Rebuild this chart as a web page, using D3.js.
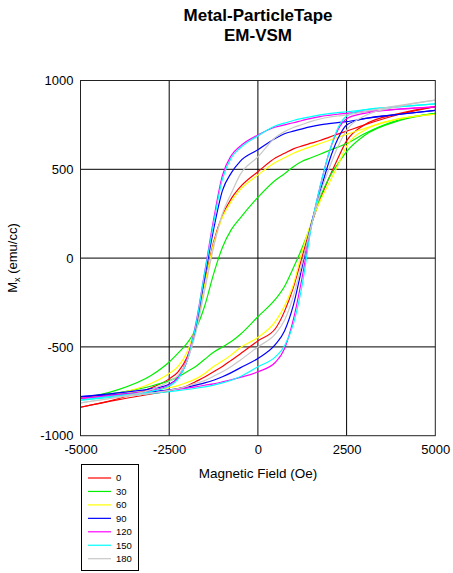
<!DOCTYPE html>
<html>
<head>
<meta charset="utf-8">
<script src="https://cdn.jsdelivr.net/npm/d3@7"></script>
<style>
  html, body { margin: 0; padding: 0; background: #fff; }
  svg { display: block; font-family: "Liberation Sans", Arial, Helvetica, sans-serif; }
</style>
</head>
<body>
<svg id="chart" width="453" height="573"></svg>
<script>
// ---- data ----
const titleLines = ["Metal-ParticleTape", "EM-VSM"];
const xTicks = [-5000, -2500, 0, 2500, 5000];
const yTicks = [-1000, -500, 0, 500, 1000];
const angles = ["0", "30", "60", "90", "120", "150", "180"];
const seriesColors = ["#ff0000", "#00f000", "#ffff00", "#0000ff", "#ff00ff", "#00ffff", "#c8c8c8"];

// applied field (Oe) sample points
const fieldH = [-5000, -4000, -3000, -2500, -2250, -2000, -1750, -1500, -1250, -1000, -750, -500, 0,
                500, 750, 1000, 1250, 1500, 1750, 2000, 2250, 2500, 3000, 4000, 5000];

// descending-field branch (upper) and ascending-field branch (lower), emu/cc
const upper0   = [-840, -795, -730, -680, -640, -560, -400, -140, 90, 240, 335, 400, 486, 565, 590, 615, 632, 647, 662, 680, 698, 715, 750, 810, 853];
const lower0   = [-840, -800, -765, -748, -735, -720, -695, -670, -640, -610, -575, -540, -466, -395, -300, -165, 10, 185, 330, 450, 560, 660, 750, 815, 853];
const upper30  = [-790, -745, -660, -585, -535, -480, -400, -270, -90, 60, 160, 225, 342, 440, 475, 515, 545, 565, 585, 605, 625, 645, 700, 780, 815];
const lower30  = [-790, -760, -720, -690, -670, -640, -610, -570, -530, -500, -470, -430, -330, -230, -160, -55, 60, 190, 340, 450, 530, 600, 690, 775, 815];
const upper60  = [-790, -765, -705, -650, -610, -530, -380, -150, 80, 230, 320, 385, 468, 540, 565, 590, 610, 628, 645, 662, 680, 697, 730, 785, 810];
const lower60  = [-790, -770, -745, -730, -718, -700, -680, -650, -610, -580, -545, -505, -447, -355, -270, -150, 40, 200, 320, 420, 520, 630, 720, 785, 810];
const upper90  = [-780, -760, -735, -710, -675, -580, -390, -110, 160, 380, 480, 545, 610, 675, 700, 715, 728, 740, 750, 757, 763, 768, 785, 810, 832];
const lower90  = [-780, -768, -752, -742, -735, -727, -715, -703, -688, -668, -645, -618, -565, -485, -410, -265, -45, 190, 370, 540, 670, 750, 785, 810, 832];
const upper120 = [-790, -770, -745, -715, -670, -570, -370, -80, 215, 465, 578, 630, 693, 738, 750, 762, 775, 787, 797, 804, 810, 815, 825, 840, 852];
const lower120 = [-790, -775, -760, -744, -738, -732, -725, -716, -708, -697, -685, -672, -640, -585, -510, -345, -105, 175, 400, 590, 720, 785, 815, 838, 852];
const upper150 = [-800, -775, -750, -720, -680, -580, -380, -85, 195, 445, 565, 620, 688, 745, 760, 775, 787, 797, 806, 813, 819, 824, 835, 853, 868];
const lower150 = [-800, -782, -762, -752, -746, -740, -733, -725, -715, -703, -688, -668, -612, -555, -495, -370, -150, 170, 400, 590, 730, 800, 835, 853, 868];
const upper180 = [-815, -785, -740, -695, -660, -580, -420, -180, 60, 250, 365, 470, 570, 680, 712, 735, 752, 770, 783, 793, 800, 806, 825, 860, 890];
const lower180 = [-815, -785, -760, -745, -735, -722, -705, -690, -665, -640, -610, -575, -500, -425, -350, -215, -25, 180, 360, 500, 625, 720, 800, 855, 890];

const series = [
  { name: angles[0], upper: upper0,   lower: lower0 },
  { name: angles[1], upper: upper30,  lower: lower30 },
  { name: angles[2], upper: upper60,  lower: lower60 },
  { name: angles[3], upper: upper90,  lower: lower90 },
  { name: angles[4], upper: upper120, lower: lower120 },
  { name: angles[5], upper: upper150, lower: lower150 },
  { name: angles[6], upper: upper180, lower: lower180 }
];

// ---- layout ----
const svg = d3.select("#chart");
const plot = { left: 80.5, right: 435.3, top: 80.5, bottom: 435.7 };

const x = d3.scaleLinear().domain([-5000, 5000]).range([plot.left, plot.right]);
const y = d3.scaleLinear().domain([-1000, 1000]).range([plot.bottom, plot.top]);

// title
svg.append("text")
  .attr("x", 258).attr("y", 20.5)
  .attr("text-anchor", "middle")
  .style("font-size", "17px").style("font-weight", "bold")
  .text(titleLines[0]);
svg.append("text")
  .attr("x", 258).attr("y", 40.5)
  .attr("text-anchor", "middle")
  .style("font-size", "17px").style("font-weight", "bold")
  .text(titleLines[1]);

// grid
const grid = svg.append("g");
grid.selectAll("line.v").data(xTicks.slice(1, -1)).join("line")
  .attr("x1", d => x(d)).attr("x2", d => x(d))
  .attr("y1", plot.top).attr("y2", plot.bottom)
  .attr("stroke", "#000").attr("stroke-width", 1);
grid.selectAll("line.h").data(yTicks.slice(1, -1)).join("line")
  .attr("x1", plot.left).attr("x2", plot.right)
  .attr("y1", d => y(d)).attr("y2", d => y(d))
  .attr("stroke", "#000").attr("stroke-width", 1);

// axes (hyphen-minus labels as in the original)
const fmt = d => String(d);
const xAxis = d3.axisBottom(x).tickValues(xTicks).tickSize(0).tickPadding(9).tickFormat(fmt);
const yAxis = d3.axisLeft(y).tickValues(yTicks).tickSize(0).tickPadding(7).tickFormat(fmt);
const gx = svg.append("g").attr("transform", `translate(0,${plot.bottom})`).call(xAxis);
const gy = svg.append("g").attr("transform", `translate(${plot.left},0)`).call(yAxis);
[gx, gy].forEach(g => {
  g.select(".domain").remove();
  g.selectAll("text").style("font-size", "13px").style("font-family", "'Liberation Sans', Arial, sans-serif").attr("fill", "#000");
});

// series
const line = d3.line()
  .x(d => x(d[0]))
  .y(d => y(d[1]))
  .curve(d3.curveMonotoneX);

const clipId = "plotclip";
svg.append("clipPath").attr("id", clipId).append("rect")
  .attr("x", plot.left).attr("y", plot.top)
  .attr("width", plot.right - plot.left).attr("height", plot.bottom - plot.top);

const gSeries = svg.append("g").attr("clip-path", `url(#${clipId})`);
series.forEach((s, i) => {
  const up = fieldH.map((h, k) => [h, s.upper[k]]);
  const lo = fieldH.map((h, k) => [h, s.lower[k]]);
  [up, lo].forEach(pts => {
    gSeries.append("path")
      .datum(pts)
      .attr("d", line)
      .attr("fill", "none")
      .attr("stroke", seriesColors[i])
      .attr("stroke-width", 1.2)
      .attr("stroke-linejoin", "round");
  });
});

// frame
svg.append("rect")
  .attr("x", plot.left).attr("y", plot.top)
  .attr("width", plot.right - plot.left).attr("height", plot.bottom - plot.top)
  .attr("fill", "none").attr("stroke", "#222").attr("stroke-width", 1);

// axis titles
svg.append("text")
  .attr("x", 258).attr("y", 478)
  .attr("text-anchor", "middle")
  .style("font-size", "13.5px")
  .text("Magnetic Field (Oe)");

const yt = svg.append("text")
  .attr("transform", "translate(17,258) rotate(-90)")
  .attr("text-anchor", "middle")
  .style("font-size", "13px");
yt.append("tspan").text("M");
yt.append("tspan").attr("dy", 3).style("font-size", "9px").text("x");
yt.append("tspan").attr("dy", -3).text(" (emu/cc)");

// legend
const legend = svg.append("g");
legend.append("rect")
  .attr("x", 81.5).attr("y", 464.5).attr("width", 57).attr("height", 106)
  .attr("fill", "#fff").attr("stroke", "#000").attr("stroke-width", 1);
const ly = d3.scalePoint().domain(angles).range([478, 558.7]);
angles.forEach((a, i) => {
  legend.append("line")
    .attr("x1", 88).attr("x2", 111)
    .attr("y1", ly(a)).attr("y2", ly(a))
    .attr("stroke", seriesColors[i]).attr("stroke-width", 1.2);
  legend.append("text")
    .attr("x", 116).attr("y", ly(a)).attr("dy", "0.35em")
    .style("font-size", "9.5px")
    .text(a);
});
</script>
</body>
</html>
